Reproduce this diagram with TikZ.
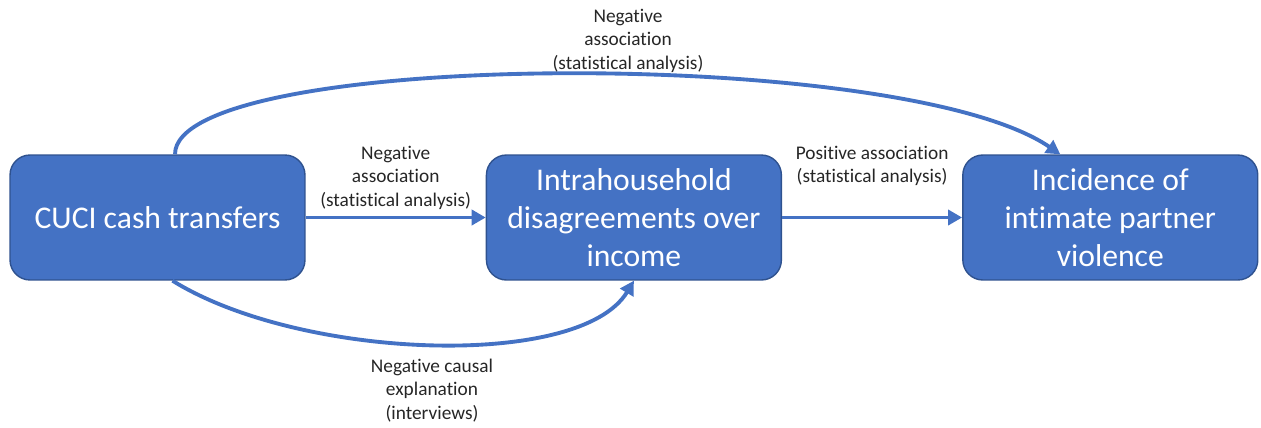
\documentclass[tikz,border=0pt]{standalone}
\usepackage{fontspec}
\setmainfont{Carlito}[Ligatures=NoCommon]
\usetikzlibrary{arrows.meta}
\definecolor{boxblue}{HTML}{4472C4}
\definecolor{boxedge}{HTML}{2F528F}

\begin{document}
\begin{tikzpicture}[x=0.02cm,y=-0.02cm,->,>={Triangle[length=0.28cm,width=0.3cm]},shorten >=0pt,node distance=9.53cm,
  main node/.style={rectangle,rounded corners=0.4cm,draw=boxedge,line width=0.8pt,fill=boxblue,text=white,align=center,
    minimum width=5.9cm,minimum height=2.5cm,font=\fontsize{18}{21.6}\selectfont},
  label node/.style={align=center,text=black!85,inner sep=0pt,font=\fontsize{11}{13.2}\selectfont},
  link/.style={color=boxblue,line width=2.2pt}]

  \useasboundingbox (0,0) rectangle (1261,427);

  \node[main node] (cash) at (157.5,217.5) {CUCI cash transfers};
  \node[main node] (dis) [right of=cash] {Intrahousehold\\disagreements over\\income};
  \node[main node] (ipv) [right of=dis] {Incidence of\\intimate partner\\violence};

  \path[link]
       (cash) edge node[label node,anchor=north,yshift=1.46cm] {Negative\\association\\(statistical analysis)} (dis)
       (dis) edge node[label node,anchor=north,yshift=1.46cm] {Positive association\\(statistical analysis)} (ipv);

  % curved links round the middle box
  \draw[link] ([xshift=0.35cm]cash.north) .. controls (175,50) and (900,45) .. ([xshift=-1cm]ipv.north);
  \draw[link] ([xshift=0.3cm]cash.south) .. controls (300,360) and (580,370) .. ([xshift=0cm]dis.south);

  \node[label node,anchor=north] (top) at (628,9) {Negative\\association\\(statistical analysis)};
  \node[label node,anchor=north] (bottom) at (432,359) {Negative causal\\explanation\\(interviews)};
\end{tikzpicture}
\end{document}
